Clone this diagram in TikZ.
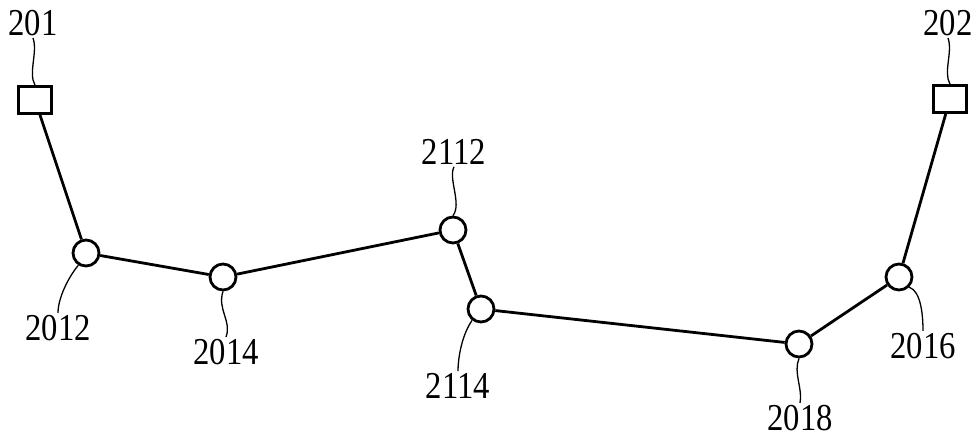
\documentclass[tikz,border=0pt]{standalone}
\usepackage{fontspec}
\newfontfamily\patfont[FakeStretch=0.86]{Liberation Serif}
\usepackage{tikz}
\usetikzlibrary{positioning, shapes, calc}

\begin{document}
\begin{tikzpicture}
    [
        x=1pt, y=-1pt,
        part/.style={circle, draw, line width=2.8pt, minimum size=26pt,
                     inner sep=0pt},
        term/.style={rectangle, draw, line width=2.8pt, minimum width=33pt,
                     minimum height=27pt, inner sep=0pt},
        tag/.style={font=\patfont\fontsize{38}{44}\selectfont, inner sep=2pt},
        wire/.style={line width=2.8pt},
        lead/.style={line width=1.3pt}
    ]
    \useasboundingbox (0,0) rectangle (979,437);
    % ends
    \node (t201) [term] at (35,100) {};
    \node (t202) [term] at (950,99) {};
    % joints
    \node (p2012) [part] at (86,253) {};
    \node (p2014) [part] at (223,277) {};
    \node (p2112) [part] at (453,230) {};
    \node (p2114) [part] at (481,309) {};
    \node (p2018) [part] at (799,344) {};
    \node (p2016) [part] at (899,277) {};
    % labels
    \node (l201) [tag] at (33,23) {201};
    \node (l202) [tag] at (948,23) {202};
    \node (l2012) [tag] at (58,328) {2012};
    \node (l2014) [tag] at (226,352) {2014};
    \node (l2112) [tag] at (454,152) {2112};
    \node (l2114) [tag] at (458,386) {2114};
    \node (l2018) [tag] at (800,418) {2018};
    \node (l2016) [tag] at (923,346) {2016};
    % line
    \draw [wire] (t201) -- (p2012) -- (p2014) -- (p2112) -- (p2114)
        -- (p2018) -- (p2016) -- (t202);
    % leaders
    \draw [lead] (l201.south) .. controls +(5,14) and +(-7,-12) .. (t201.north);
    \draw [lead] (l202.south) .. controls +(5,14) and +(-7,-12) .. (t202.north);
    \draw [lead] (p2012.238) .. controls +(-10,12) and +(0,-15) .. (l2012.north);
    \draw [lead] (p2014.south) .. controls +(-6,18) and +(6,-16) .. (l2014.north);
    \draw [lead] (l2112.south) .. controls +(-6,12) and +(9,-12) .. (p2112.north);
    \draw [lead] (p2114.232) .. controls +(-10,14) and +(0,-14) .. (l2114.north);
    \draw [lead] (p2018.south) .. controls +(-6,14) and +(3,-14) .. (l2018.north);
    \draw [lead] (p2016.-45) .. controls +(12,4) and +(0,-15) .. (l2016.north);
\end{tikzpicture}
\end{document}
